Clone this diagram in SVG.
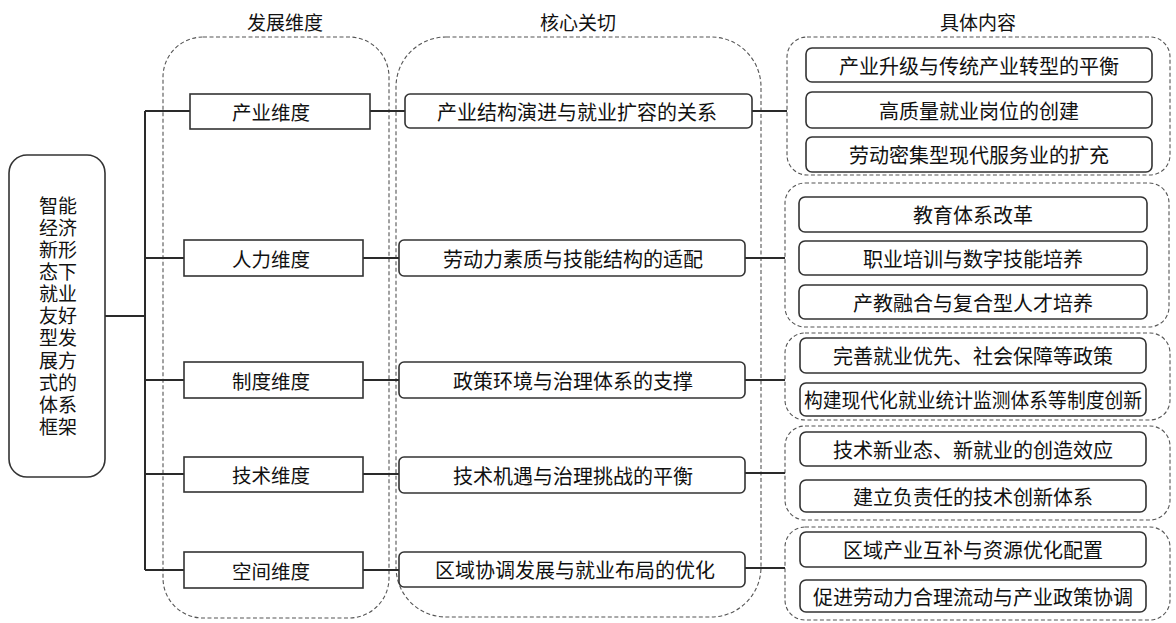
<svg xmlns="http://www.w3.org/2000/svg" width="1176" height="623" viewBox="0 0 1176 623">
<style>
text{font-family:"Noto Sans CJK SC","Noto Sans",sans-serif;fill:#111;text-anchor:middle;dominant-baseline:central}
.h{font-size:19px}
.t{font-size:20px}
.d{font-size:19.5px}
.r{font-size:19px}
.grp{fill:none;stroke:#555;stroke-width:1.1;stroke-dasharray:4 2.5}
.box{fill:#fff;stroke:#333;stroke-width:1.6}
.con{fill:none;stroke:#2a2a2a;stroke-width:2}
</style>
<rect width="1176" height="623" fill="#fff"/>
<!-- headers -->
<text class="h" x="285" y="21">发展维度</text>
<text class="h" x="578" y="21">核心关切</text>
<text class="h" x="978" y="21">具体内容</text>
<!-- dashed containers -->
<g id="containers">
<rect class="grp" x="163" y="37" width="226" height="581" rx="40"/>
<rect class="grp" x="396" y="37" width="365" height="580" rx="50"/>
<rect class="grp" x="787" y="37" width="383" height="138" rx="20"/>
<rect class="grp" x="785" y="183" width="384" height="144" rx="20"/>
<rect class="grp" x="785" y="333" width="385" height="87" rx="20"/>
<rect class="grp" x="785" y="426" width="385" height="94" rx="20"/>
<rect class="grp" x="785" y="527" width="385" height="93" rx="20"/>
</g>
<!-- connectors -->
<g id="connectors" class="con">
<line x1="105" y1="316" x2="145" y2="316"/>
<line x1="145" y1="111" x2="145" y2="570"/>
<line x1="145" y1="111" x2="190" y2="111"/>
<line x1="145" y1="258" x2="184" y2="258"/>
<line x1="145" y1="380" x2="184" y2="380"/>
<line x1="145" y1="474" x2="184" y2="474"/>
<line x1="145" y1="570" x2="184" y2="570"/>
<line x1="370" y1="111" x2="405" y2="111"/>
<line x1="363" y1="258" x2="399" y2="258"/>
<line x1="363" y1="380" x2="399" y2="380"/>
<line x1="363" y1="474" x2="399" y2="474"/>
<line x1="363" y1="570" x2="399" y2="570"/>
<line x1="752" y1="111" x2="787" y2="111"/>
<line x1="745" y1="258" x2="785" y2="258"/>
<line x1="745" y1="380" x2="785" y2="380"/>
<line x1="745" y1="473" x2="785" y2="473"/>
<line x1="745" y1="568" x2="785" y2="568"/>
</g>
<!-- root -->
<g id="root">
<rect class="box" x="9" y="155" width="96" height="322" rx="18"/>
<text class="r" x="58">
<tspan x="58" y="203.5">智能</tspan><tspan x="58" y="225.6">经济</tspan><tspan x="58" y="247.8">新形</tspan><tspan x="58" y="269.9">态下</tspan><tspan x="58" y="292.1">就业</tspan><tspan x="58" y="314.2">友好</tspan><tspan x="58" y="336.4">型发</tspan><tspan x="58" y="358.5">展方</tspan><tspan x="58" y="380.7">式的</tspan><tspan x="58" y="402.8">体系</tspan><tspan x="58" y="425">框架</tspan>
</text>
</g>
<!-- dimension nodes -->
<g id="dim1"><rect class="box" x="190" y="94" width="180" height="35"/><text class="d" x="271" y="111.5">产业维度</text></g>
<g id="dim2"><rect class="box" x="184" y="240" width="179" height="36"/><text class="d" x="271" y="258">人力维度</text></g>
<g id="dim3"><rect class="box" x="184" y="362" width="179" height="36"/><text class="d" x="271" y="380">制度维度</text></g>
<g id="dim4"><rect class="box" x="184" y="457" width="179" height="35"/><text class="d" x="271" y="474.5">技术维度</text></g>
<g id="dim5"><rect class="box" x="184" y="552" width="179" height="36"/><text class="d" x="271" y="570">空间维度</text></g>
<!-- core concern nodes -->
<g id="core1"><rect class="box" x="405" y="94" width="347" height="34" rx="5"/><text class="t" x="577" y="111">产业结构演进与就业扩容的关系</text></g>
<g id="core2"><rect class="box" x="399" y="240" width="346" height="36" rx="5"/><text class="t" x="573" y="258">劳动力素质与技能结构的适配</text></g>
<g id="core3"><rect class="box" x="399" y="362" width="346" height="36" rx="5"/><text class="t" x="573" y="380">政策环境与治理体系的支撑</text></g>
<g id="core4"><rect class="box" x="399" y="457" width="346" height="36" rx="5"/><text class="t" x="573" y="475">技术机遇与治理挑战的平衡</text></g>
<g id="core5"><rect class="box" x="399" y="552" width="346" height="35" rx="5"/><text class="t" x="575" y="569.5">区域协调发展与就业布局的优化</text></g>
<!-- content nodes -->
<g id="c1a"><rect class="box" x="806" y="48" width="346" height="34" rx="6"/><text class="t" x="979" y="65">产业升级与传统产业转型的平衡</text></g>
<g id="c1b"><rect class="box" x="806" y="92" width="346" height="36" rx="6"/><text class="t" x="979" y="110">高质量就业岗位的创建</text></g>
<g id="c1c"><rect class="box" x="806" y="137" width="346" height="35" rx="6"/><text class="t" x="979" y="154.5">劳动密集型现代服务业的扩充</text></g>
<g id="c2a"><rect class="box" x="799" y="197" width="348" height="35" rx="6"/><text class="t" x="973" y="214.5">教育体系改革</text></g>
<g id="c2b"><rect class="box" x="799" y="241" width="348" height="34" rx="6"/><text class="t" x="973" y="258">职业培训与数字技能培养</text></g>
<g id="c2c"><rect class="box" x="799" y="285" width="348" height="34" rx="6"/><text class="t" x="973" y="302">产教融合与复合型人才培养</text></g>
<g id="c3a"><rect class="box" x="800" y="338" width="346" height="35" rx="6"/><text class="t" x="973" y="355.5">完善就业优先、社会保障等政策</text></g>
<g id="c3b"><rect class="box" x="800" y="383" width="346" height="33" rx="6"/><text class="t" x="973" y="399.5" textLength="338" lengthAdjust="spacingAndGlyphs">构建现代化就业统计监测体系等制度创新</text></g>
<g id="c4a"><rect class="box" x="800" y="432" width="346" height="34" rx="6"/><text class="t" x="973" y="449">技术新业态、新就业的创造效应</text></g>
<g id="c4b"><rect class="box" x="800" y="480" width="346" height="32" rx="6"/><text class="t" x="973" y="496">建立负责任的技术创新体系</text></g>
<g id="c5a"><rect class="box" x="800" y="532" width="346" height="35" rx="6"/><text class="t" x="973" y="549.5">区域产业互补与资源优化配置</text></g>
<g id="c5b"><rect class="box" x="800" y="580" width="346" height="32" rx="6"/><text class="t" x="973" y="596">促进劳动力合理流动与产业政策协调</text></g>
</svg>
